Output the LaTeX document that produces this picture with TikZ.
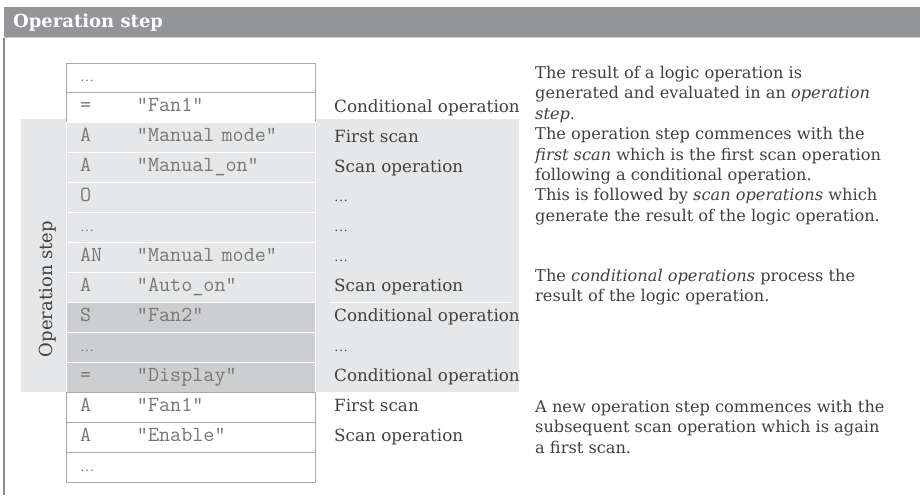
\documentclass[tikz,border=0pt]{standalone}
\usepackage{fontspec}
\setmainfont{DejaVu Serif}
\newfontfamily\dotfont{Liberation Serif}
\usetikzlibrary{positioning}
\definecolor{HeadGray}{HTML}{939598}
\definecolor{BandGray}{HTML}{E6E7E8}
\definecolor{DarkRow}{HTML}{CDCED0}
\definecolor{LineGray}{HTML}{A7A9AC}
\definecolor{TextGray}{HTML}{404040}
\definecolor{CodeGray}{HTML}{777777}
\newcommand{\instr}[1]{\makebox[57pt][l]{#1}}
\newcommand{\etc}{{\dotfont\fontsize{14}{14}\selectfont\ldots}}

\begin{document}
\begin{tikzpicture}[x=1pt, y=-1pt,
  header/.style={fill=HeadGray, minimum width=916pt, minimum height=31pt, inner sep=0pt, outer sep=0pt, anchor=north west},
  band/.style={fill=BandGray, minimum width=498pt, minimum height=273pt, inner sep=0pt, outer sep=0pt, anchor=north west},
  cell/.style={draw=LineGray, line width=0.9pt, fill=white, minimum width=249pt, minimum height=29.93pt, text width=221pt, inner xsep=14pt, inner ysep=0pt, outer sep=0pt, align=left, text height=11pt, text depth=3pt, font=\fontsize{21.5}{22}\ttfamily, text=CodeGray, anchor=north west},
  inband/.style={cell, draw=white, fill=BandGray},
  dark/.style={cell, draw=white, fill=DarkRow},
  note/.style={font=\fontsize{16.8}{21}\selectfont, text=TextGray, inner sep=0pt, text height=12pt, text depth=3.5pt, anchor=west},
  para/.style={font=\fontsize{16.2}{20.4}\selectfont, text=TextGray, inner sep=0pt, align=left, anchor=north west}]
\useasboundingbox (0,0) rectangle (920,495);
\node[header] (head) at (4,7) {};
\node[anchor=west, font=\fontsize{18}{19}\bfseries, text=white, inner sep=0pt] (title) at (13,22.5) {Operation step};
\draw[draw=black!45, line width=1.2pt] (head.south west) -- (head.south west |- 0,495);
\draw[draw=black!15, line width=1pt] (head.south east) -- (head.south east |- 0,495);
\draw[draw=black!20, line width=1pt] (head.south west) -- (head.south east);
\node[band] (band) at (21,119) {};
\node[rotate=90, font=\fontsize{18}{20}\selectfont, text=TextGray] (steplbl) at (48,289) {Operation step};
% instruction list
\node[cell] (r0) at (66,63) {\etc};
\node[cell, below=0pt of r0] (r1) {\instr{=}"Fan1"};
\node[inband, below=0pt of r1] (r2) {\instr{A}"Manual mode"};
\node[inband, below=0pt of r2] (r3) {\instr{A}"Manual\_on"};
\node[inband, below=0pt of r3] (r4) {\instr{O}};
\node[inband, below=0pt of r4] (r5) {\etc};
\node[inband, below=0pt of r5] (r6) {\instr{AN}"Manual mode"};
\node[inband, below=0pt of r6] (r7) {\instr{A}"Auto\_on"};
\node[dark, below=0pt of r7] (r8) {\instr{S}"Fan2"};
\node[dark, below=0pt of r8] (r9) {\etc};
\node[dark, below=0pt of r9] (r10) {\instr{=}"Display"};
\node[cell, below=0pt of r10] (r11) {\instr{A}"Fan1"};
\node[cell, below=0pt of r11] (r12) {\instr{A}"Enable"};
\node[cell, below=0pt of r12] (r13) {\etc};
% meaning of each line
\node[note, right=19pt of r1] (n1) {Conditional operation};
\node[note, right=19pt of r2] (n2) {First scan};
\node[note, right=19pt of r3] (n3) {Scan operation};
\node[note, right=19pt of r4] (n4) {\etc};
\node[note, right=19pt of r5] (n5) {\etc};
\node[note, right=19pt of r6] (n6) {\etc};
\node[note, right=19pt of r7] (n7) {Scan operation};
\node[note, right=19pt of r8] (n8) {Conditional operation};
\node[note, right=19pt of r9] (n9) {\etc};
\node[note, right=19pt of r10] (n10) {Conditional operation};
\node[note, right=19pt of r11] (n11) {First scan};
\node[note, right=19pt of r12] (n12) {Scan operation};
\draw[white, line width=1pt] ([xshift=15pt]r7.south east) -- ([xshift=196pt]r7.south east);
% explanations
\node[para] (p1) at (535,66) {The result of a logic operation is\\
  generated and evaluated in an \textit{operation}\\
  \textit{step}.\\
  The operation step commences with the\\
  \textit{first scan} which is the first scan operation\\
  following a conditional operation.\\
  This is followed by \textit{scan operations} which\\
  generate the result of the logic operation.};
\node[para] (p2) at (535,269) {The \textit{conditional operations} process the\\
  result of the logic operation.};
\node[para] (p3) at (535,400) {A new operation step commences with the\\
  subsequent scan operation which is again\\
  a first scan.};
\end{tikzpicture}
\end{document}
